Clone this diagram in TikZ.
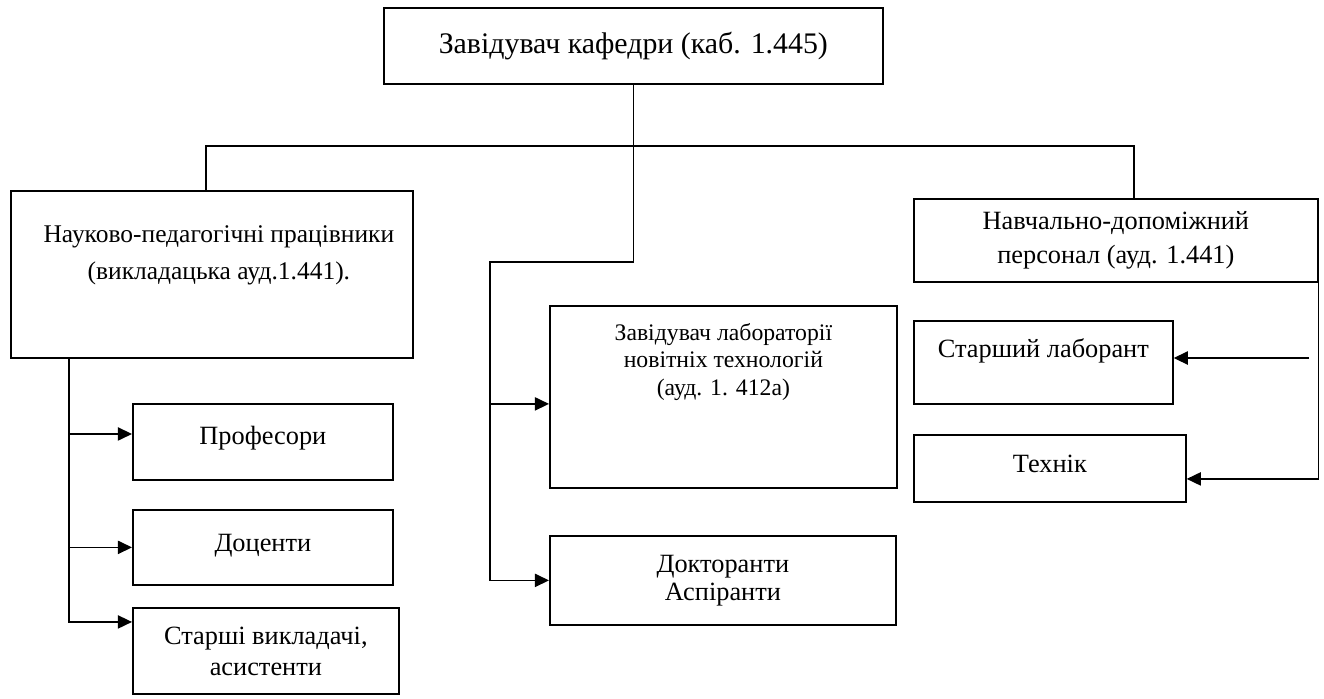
\documentclass[tikz,border=0pt]{standalone}
\usepackage{fontspec}
\setmainfont{Liberation Serif}
\usetikzlibrary{arrows.meta,positioning}

\begin{document}
\begin{tikzpicture}[x=0.02cm, y=-0.02cm, >={Triangle[length=8pt,width=7.5pt]},
  line width=0.8pt,
  box/.style={draw, line width=1pt, anchor=north west, inner sep=0pt, align=center},
  txt/.style={align=center, inner sep=0pt}]
  \useasboundingbox (0,0) rectangle (1324,698);

  % top
  \node[box, minimum width=9.98cm, minimum height=1.52cm, font=\fontsize{17}{20}\selectfont] (head) at (383,7) {Завідувач кафедри (каб. 1.445)};

  % left branch
  \node[box, minimum width=8.04cm, minimum height=3.34cm] (sci) at (10,190) {};
  \node[txt, below=20pt of sci.north, xshift=4pt, font=\fontsize{14.5}{21}\selectfont] (scitxt) {Науково-педагогічні працівники\\(викладацька ауд.1.441).};
  \node[box, minimum width=5.2cm, minimum height=1.52cm, text depth=8pt, font=\fontsize{15}{18}\selectfont] (prof) at (132,403) {Професори};
  \node[box, minimum width=5.2cm, minimum height=1.5cm, text depth=5pt, font=\fontsize{15}{18}\selectfont] (docent) at (132,509) {Доценти};
  \node[box, minimum width=5.32cm, minimum height=1.72cm] (senior) at (132,607) {};
  \node[txt, below=11pt of senior.north, font=\fontsize{15}{17.5}\selectfont] (seniortxt) {Старші викладачі,\\асистенти};

  % middle branch
  \node[box, minimum width=6.94cm, minimum height=3.64cm] (lab) at (549,305) {};
  \node[txt, below=10pt of lab.north, font=\fontsize{13.5}{15.6}\selectfont] (labtxt) {Завідувач лабораторії\\новітніх технологій\\(ауд. 1. 412а)};
  \node[box, minimum width=6.92cm, minimum height=1.78cm, font=\fontsize{15}{16}\selectfont] (phd) at (549,535) {Докторанти\\Аспіранти};

  % right branch
  \node[box, minimum width=8.08cm, minimum height=1.66cm, font=\fontsize{15}{19.4}\selectfont] (nav) at (913,198) {Навчально-допоміжний\\персонал (ауд. 1.441)};
  \node[box, minimum width=5.18cm, minimum height=1.66cm] (senlab) at (913,320) {};
  \node[txt, below=10pt of senlab.north, font=\fontsize{15}{18}\selectfont] (senlabtxt) {Старший лаборант};
  \node[box, minimum width=5.44cm, minimum height=1.34cm, text depth=5pt, font=\fontsize{15}{18}\selectfont] (tech) at (913,434) {Технік};

  % connectors
  \coordinate (barL) at (206,146);
  \coordinate (barR) at (1134,146);
  \coordinate (turn) at (490,262);
  \coordinate (spine) at (69,357);
  \coordinate (labsrc) at (1309,358);

  \draw (barL |- sci.north) -- (barL) -- (barR) -- (barR |- nav.north);
  \draw[->] (head.south) |- (turn) |- (phd.west);
  \draw[<-] ([yshift=-4pt]lab.west) -- ++(-59,0);

  \draw[->] (spine) |- ([yshift=-8.5pt]senior.north west);
  \draw[<-] ([yshift=4.5pt]prof.west) -- ++(-63,0);
  \draw[<-] (docent.west) -- ++(-62,0);

  \draw[->] (nav.south east) |- ([yshift=-6pt]tech.east);
  \draw[->] (labsrc) -- (senlab.east |- labsrc);
\end{tikzpicture}
\end{document}
